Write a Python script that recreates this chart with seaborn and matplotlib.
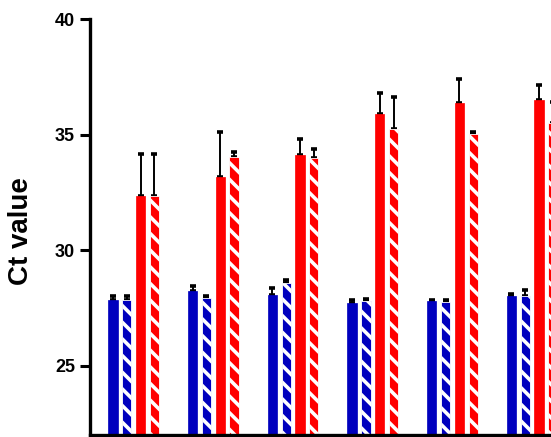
import numpy as np
import pandas as pd
import matplotlib
matplotlib.use("Agg")
import matplotlib.pyplot as plt
import seaborn as sns

# ---- data ----
groups = ["G1", "G2", "G3", "G4", "G5", "G6"]
series = ["Blue", "Blue hatched", "Red", "Red hatched"]
blue_solid = [27.85, 28.24, 28.06, 27.73, 27.81, 28.01]
blue_hatched = [27.85, 27.92, 28.57, 27.81, 27.76, 28.01]
red_solid = [32.36, 33.19, 34.11, 35.91, 36.38, 36.49]
red_hatched = [32.36, 34.03, 34.01, 35.24, 35.02, 35.50]
blue_solid_err = [0.18, 0.23, 0.29, 0.10, 0.06, 0.09]
blue_hatched_err = [0.18, 0.10, 0.14, 0.08, 0.10, 0.27]
red_solid_err = [1.81, 1.93, 0.71, 0.91, 1.02, 0.65]
red_hatched_err = [1.81, 0.21, 0.38, 1.41, 0.10, 0.90]
y_ticks = [25, 30, 35, 40]

values = [blue_solid, blue_hatched, red_solid, red_hatched]
errors = [blue_solid_err, blue_hatched_err, red_solid_err, red_hatched_err]

df = pd.DataFrame({
    "group": [g for s in series for g in groups],
    "series": [s for s in series for g in groups],
    "ct": [v for vals in values for v in vals],
})

BLUE = "#0000BE"
RED = "#FF0000"
palette = {"Blue": BLUE, "Blue hatched": BLUE, "Red": RED, "Red hatched": RED}

sns.set_style("ticks")
plt.rcParams["font.family"] = ["Liberation Sans", "DejaVu Sans"]
plt.rcParams["hatch.linewidth"] = 2.6
plt.rcParams["text.color"] = "black"
plt.rcParams["ytick.color"] = "black"
plt.rcParams["axes.edgecolor"] = "black"
plt.rcParams["axes.labelcolor"] = "black"

W, H = 551, 437
fig = plt.figure(figsize=(W / 100, H / 100), dpi=100)
ax_left, ax_top_px, ax_h_px = 89.5, 19.3, 415.8
ax = fig.add_axes([ax_left / W, (H - ax_top_px - ax_h_px) / H,
                   (W - ax_left) / W, ax_h_px / H])

sns.barplot(data=df, x="group", y="ct", hue="series", order=groups,
            hue_order=series, palette=palette, errorbar=None,
            width=0.693, gap=0.33, dodge=True, legend=False, ax=ax,
            saturation=1)

bar_containers = list(ax.containers)
for i, cont in enumerate(bar_containers):
    hatched = "hatched" in series[i]
    for p in cont.patches:
        if hatched:
            p.set_hatch("\\\\")
            p.set_edgecolor("white")
            p.set_linewidth(0.6)
        else:
            p.set_edgecolor(BLUE if i == 0 else RED)
            p.set_linewidth(0.5)
        p.set_zorder(2)
    xs = [p.get_x() + p.get_width() / 2 for p in cont.patches]
    ys = [p.get_height() for p in cont.patches]
    ax.errorbar(xs, ys, yerr=[np.zeros(len(ys)), errors[i]], fmt="none",
                ecolor="black", elinewidth=1.4, capsize=2.3,
                capthick=2.6, zorder=1)

center0, period = 133.7, 79.7
ax.set_ylim(22, 40)
ax.set_xlim((ax_left - center0) / period, (W - center0) / period)
ax.set_yticks(y_ticks)
ax.set_yticklabels([str(t) for t in y_ticks], fontsize=13, fontweight="bold")
ax.tick_params(axis="y", length=7, width=2.2, pad=3.5, color="black",
               labelcolor="black")
ax.tick_params(axis="x", length=0, labelbottom=False)
ax.set_xlabel("")
ax.set_ylabel("Ct value", fontsize=20, fontweight="bold", color="black")
ax.yaxis.set_label_coords(-(ax_left - 34) / (W - ax_left), 0.49)
for side in ["top", "right"]:
    ax.spines[side].set_visible(False)
ax.spines["left"].set_linewidth(2.4)
ax.spines["bottom"].set_linewidth(2.4)
ax.spines["left"].set_zorder(5)
ax.spines["bottom"].set_zorder(5)

fig.savefig("out.png", dpi=100)
